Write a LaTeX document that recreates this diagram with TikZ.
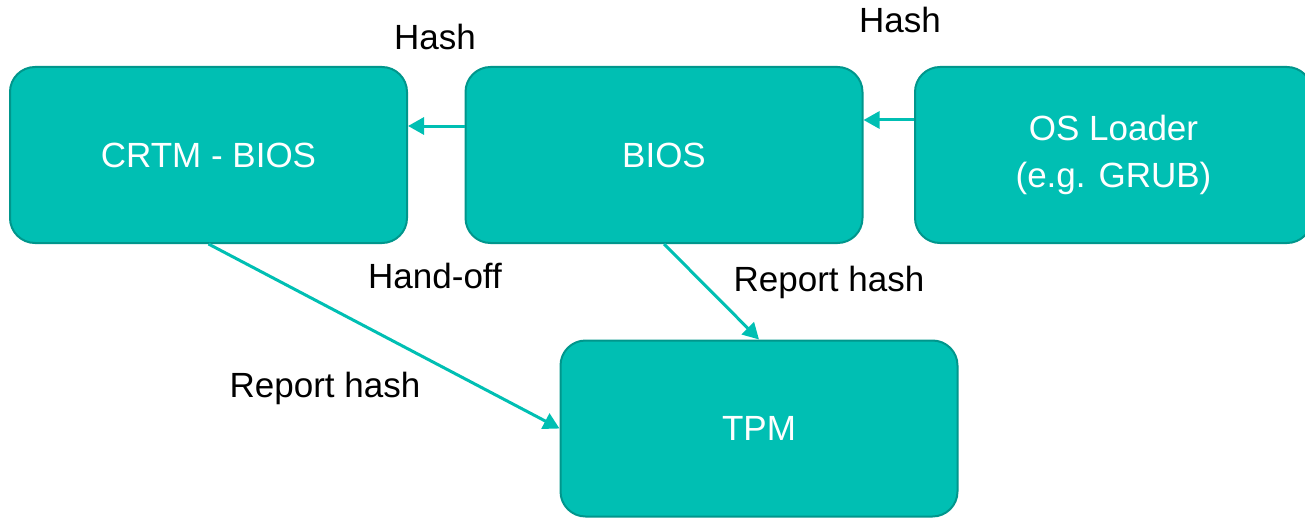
\documentclass[tikz,border=0pt]{standalone}
\usepackage{fontspec}
\setmainfont{Liberation Sans}
\usetikzlibrary{arrows.meta}
\definecolor{tealfill}{RGB}{0,191,179}
\definecolor{tealline}{RGB}{0,150,140}
\tikzset{
  stage/.style={draw=tealline,fill=tealfill,line width=1pt,rounded corners=12.5pt,
    minimum width=198.5pt,minimum height=88pt,inner sep=0pt,text=white,
    align=center,font=\fontsize{17.5}{23.5}\selectfont},
  tag/.style={text=black,font=\fontsize{17.5}{21}\selectfont,inner sep=0pt},
  flow/.style={draw=tealfill,line width=1.5pt,-{Triangle[length=8pt,width=8.5pt]}}
}
\begin{document}
\begin{tikzpicture}[x=0.5pt,y=-0.5pt]
  \useasboundingbox (0,0) rectangle (1305,519);
  % boxes
  \node[stage] (crtm)   at (208.5,155) {CRTM - BIOS};
  \node[stage] (bios)   at (664,155)   {BIOS};
  \node[stage] (loader) at (1113.5,155) {OS Loader\\(e.g. GRUB)};
  \node[stage] (tpm)    at (759,428.5) {TPM};
  % labels
  \node[tag] (hashA)   at (435,37)  {Hash};
  \node[tag] (hashB)   at (900,20)  {Hash};
  \node[tag] (handoff) at (435,276) {Hand-off};
  \node[tag] (repA)    at (829,282) {Report hash};
  \node[tag] (repB)    at (325,388) {Report hash};
  % arrows
  \draw[flow] ([yshift=14.5pt]bios.west) -- ([yshift=14.5pt]crtm.east);
  \draw[flow] ([yshift=17.5pt]loader.west) -- ([yshift=17.5pt]bios.east);
  \draw[flow] (crtm.south) -- (tpm.west);
  \draw[flow] (bios.south) -- (tpm.north);
\end{tikzpicture}
\end{document}
